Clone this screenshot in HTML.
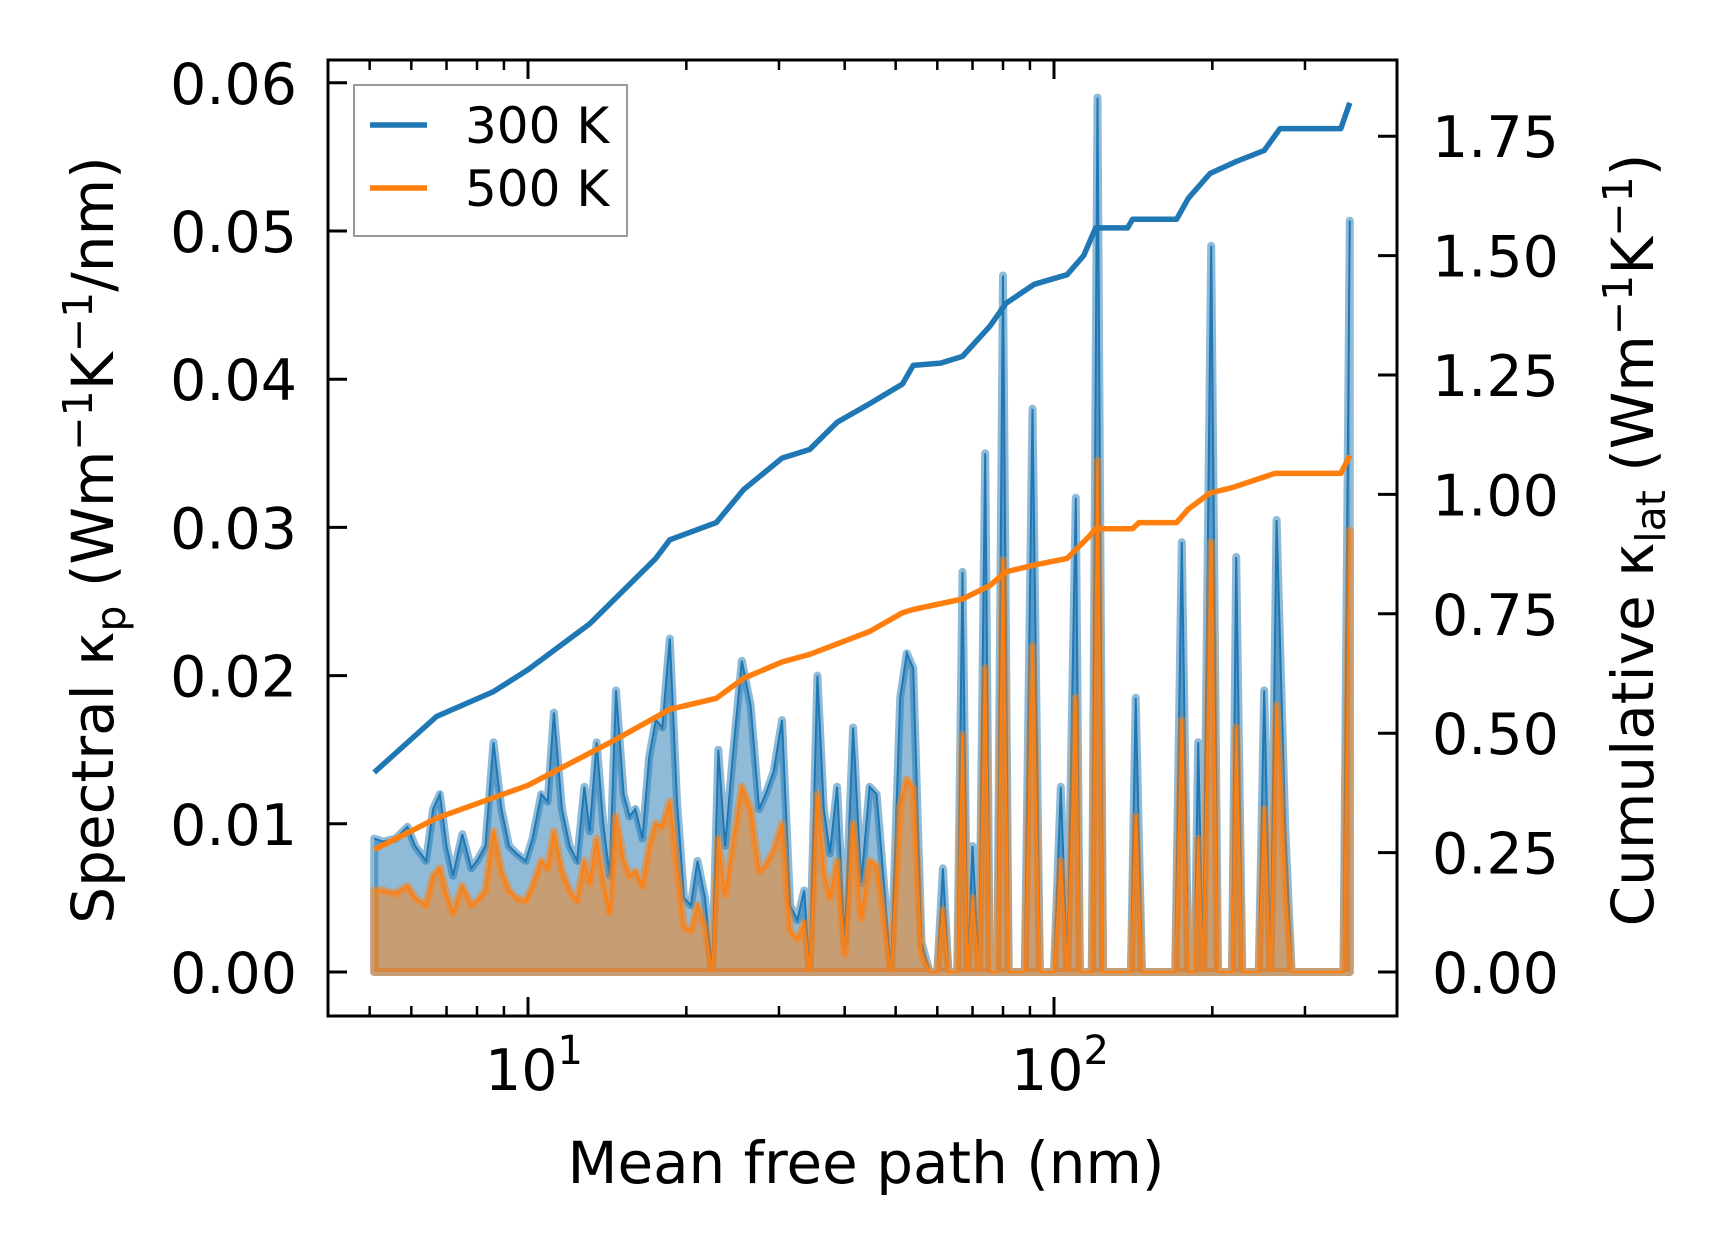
<!DOCTYPE html>
<html><head><meta charset="utf-8"><style>
html,body{margin:0;padding:0;background:#fff;}
svg{display:block;font-family:"DejaVu Sans","Liberation Sans",sans-serif;}
</style></head><body>
<svg id="chart" width="1716" height="1254" viewBox="0 0 1716 1254" xmlns="http://www.w3.org/2000/svg">
<rect width="1716" height="1254" fill="#fff"/>
<g id="plot"></g>
<g id="axes"></g>
<g>
<rect x="354" y="85" width="273" height="151" fill="#fff" fill-opacity="0.8" stroke="#999" stroke-width="2"/>
<line x1="370" y1="125" x2="427" y2="125" stroke="#1f77b4" stroke-width="5.5"/>
<text x="465" y="143" font-size="50">300 K</text>
<line x1="370" y1="188" x2="427" y2="188" stroke="#ff7f0e" stroke-width="5.5"/>
<text x="465" y="206" font-size="50">500 K</text>
</g>
<text x="866" y="1183" font-size="58" text-anchor="middle" textLength="597" lengthAdjust="spacingAndGlyphs">Mean free path (nm)</text>
<text transform="translate(113,540) rotate(-90)" font-size="58" text-anchor="middle">Spectral κ<tspan font-size="41" dy="12">p</tspan><tspan dy="-12"> (Wm</tspan><tspan font-size="41" dy="-21">−1</tspan><tspan dy="21">K</tspan><tspan font-size="41" dy="-21">−1</tspan><tspan dy="21">/nm)</tspan></text>
<text transform="translate(1653,540) rotate(-90)" font-size="58" text-anchor="middle">Cumulative κ<tspan font-size="41" dy="12">lat</tspan><tspan dy="-12"> (Wm</tspan><tspan font-size="41" dy="-21">−1</tspan><tspan dy="21">K</tspan><tspan font-size="41" dy="-21">−1</tspan><tspan dy="21">)</tspan></text>
</svg>
<script>
// ---- data ----
const mfp = [5.1,5.3,5.6,5.9,6.1,6.4,6.6,6.8,7.0,7.2,7.5,7.8,8.0,8.3,8.6,8.9,9.2,9.5,9.9,10.2,10.6,10.9,11.2,11.6,12.0,12.4,12.8,13.1,13.5,13.9,14.3,14.7,15.2,15.6,16.0,16.5,17.0,17.5,18.0,18.6,19.2,19.8,20.4,21.0,21.7,22.4,23.0,23.7,24.5,25.5,26.5,27.5,28.3,29.3,30.4,31.5,32.5,33.5,34.3,35.5,36.5,37.5,38.7,40,41.5,43,44.6,46,47.5,49,51,52.5,54,56,58,60,61.5,63,65.5,67,68.5,70,72,74,75.5,78,80,82,88,91,94,100,103,106,110,112,118,121,124,140,143,147,170,175,180,185,188,192,199,205,218,222,228,245,251,258,265,275,283,355,365];
const spec300 = [0.009,0.0088,0.009,0.0098,0.0085,0.0075,0.011,0.012,0.0085,0.0065,0.0093,0.007,0.0075,0.0085,0.0155,0.011,0.0085,0.008,0.0075,0.009,0.012,0.0115,0.0175,0.011,0.0085,0.0075,0.0125,0.0095,0.0155,0.01,0.0065,0.019,0.012,0.0105,0.011,0.009,0.0145,0.017,0.0165,0.0225,0.0115,0.005,0.0045,0.0075,0.005,0.0,0.015,0.0085,0.0145,0.021,0.018,0.011,0.012,0.0135,0.017,0.0045,0.0035,0.0055,0.0,0.02,0.011,0.008,0.0125,0.002,0.0165,0.006,0.0125,0.012,0.006,0.0,0.0185,0.0215,0.0205,0.002,0.0,0.0,0.007,0.0,0.0,0.027,0.0,0.0085,0.0,0.035,0.0,0.0,0.047,0.0,0.0,0.038,0.0,0.0,0.0125,0.0,0.032,0.0,0.0,0.059,0.0,0.0,0.0185,0.0,0.0,0.029,0.0,0.0,0.0155,0.0,0.049,0.0,0.0,0.028,0.0,0.0,0.019,0.0,0.0305,0.01,0.0,0.0,0.0507];
const spec500 = [0.0055,0.0055,0.0053,0.0058,0.005,0.0045,0.0065,0.007,0.0052,0.004,0.0058,0.0045,0.0048,0.0055,0.0095,0.0068,0.0055,0.005,0.0048,0.0058,0.0075,0.007,0.0095,0.0068,0.0055,0.0048,0.0075,0.006,0.009,0.0062,0.004,0.0105,0.0075,0.0065,0.0068,0.0058,0.0085,0.01,0.0098,0.0115,0.007,0.003,0.0028,0.0045,0.003,0.0,0.009,0.0052,0.0085,0.0125,0.011,0.0068,0.0072,0.0082,0.01,0.0028,0.0022,0.0033,0.0,0.012,0.0068,0.005,0.0075,0.0012,0.01,0.0036,0.0075,0.0072,0.0036,0.0,0.0112,0.013,0.0124,0.0012,0.0,0.0,0.0042,0.0,0.0,0.016,0.0,0.005,0.0,0.0205,0.0,0.0,0.0278,0.0,0.0,0.022,0.0,0.0,0.0075,0.0,0.0185,0.0,0.0,0.0345,0.0,0.0,0.0105,0.0,0.0,0.017,0.0,0.0,0.009,0.0,0.029,0.0,0.0,0.0165,0.0,0.0,0.011,0.0,0.018,0.006,0.0,0.0,0.0298];
const cumX300 = [5.1,6.7,8.6,10,13.1,17.5,18.6,22.8,25.7,30.4,34.3,38.7,44.6,51.5,54,60.9,67,75.5,81,91.7,105.9,113.9,120,138,141,171,180,198,222,251,269,351,365];
const cum300 = [0.418,0.535,0.587,0.633,0.729,0.866,0.905,0.941,1.01,1.076,1.094,1.151,1.19,1.231,1.27,1.275,1.289,1.352,1.40,1.44,1.46,1.50,1.558,1.558,1.576,1.576,1.62,1.672,1.697,1.72,1.766,1.766,1.82];
const cumX500 = [5.1,6.7,10,14.7,18.6,22.8,25.7,30.4,34.3,44.6,51.5,54,67,75.5,81,91.7,105.9,116.6,120,141,145,171,180,198,218,263,351,365];
const cum500 = [0.256,0.322,0.391,0.487,0.55,0.573,0.615,0.649,0.665,0.713,0.752,0.759,0.781,0.809,0.838,0.852,0.866,0.912,0.928,0.928,0.941,0.941,0.969,1.003,1.014,1.044,1.044,1.081];
const leftTicks = [0,0.01,0.02,0.03,0.04,0.05,0.06];
const leftTickLabels = ["0.00","0.01","0.02","0.03","0.04","0.05","0.06"];
const rightTicks = [0,0.25,0.5,0.75,1.0,1.25,1.5,1.75];
const rightTickLabels = ["0.00","0.25","0.50","0.75","1.00","1.25","1.50","1.75"];
const xMajor = [10,100];
const xMajorExp = ["1","2"];
const xMinor = [5,6,7,8,9,20,30,40,50,60,70,80,90,200,300];

// ---- scales ----
const L=328,R=1397,T=60,B=1016;
const xs = v => 528 + 526*(Math.log10(v)-1);
const yl = v => 972 - v*14820;
const yr = v => 972 - v*477.6;
const NS="http://www.w3.org/2000/svg";
function mk(tag, parent, attrs){const e=document.createElementNS(NS,tag);for(const k in attrs)e.setAttribute(k,attrs[k]);parent.appendChild(e);return e;}
const plot=document.getElementById('plot'), axes=document.getElementById('axes');

function spectral(ys, color, name){
  let pts = mfp.map((x,i)=>xs(x).toFixed(1)+','+yl(ys[i]).toFixed(1));
  const poly = pts.concat([xs(mfp[mfp.length-1]).toFixed(1)+','+yl(0), xs(mfp[0]).toFixed(1)+','+yl(0)]).join(' ');
  const f=mk('polygon',plot,{points:poly,fill:color,'fill-opacity':0.5,stroke:color,'stroke-opacity':0.5,'stroke-width':8,'stroke-linejoin':'round'});
  
  
  const l=mk('polyline',plot,{points:pts.join(' '),fill:'none',stroke:color,'stroke-width':2});
  
  
}
spectral(spec300,'#1f77b4','spectral-300k');
spectral(spec500,'#ff7f0e','spectral-500k');

function cum(xa, ya, color, name){
  const pts = xa.map((x,i)=>xs(x).toFixed(1)+','+yr(ya[i]).toFixed(1)).join(' ');
  const l=mk('polyline',plot,{points:pts,fill:'none',stroke:color,'stroke-width':5.5,'stroke-linejoin':'round'});
  
  
}
cum(cumX300,cum300,'#1f77b4','cumulative-300k');
cum(cumX500,cum500,'#ff7f0e','cumulative-500k');

// frame
const fr=mk('rect',axes,{x:L,y:T,width:R-L,height:B-T,fill:'none',stroke:'#000','stroke-width':3});


leftTicks.forEach((v,i)=>{
  const y=yl(v);
  mk('line',axes,{x1:L,y1:y,x2:L+19,y2:y,stroke:'#000','stroke-width':3});
  const t=mk('text',axes,{x:297,y:y+21,'font-size':57,'text-anchor':'end'});
  t.textContent=leftTickLabels[i];
  
  
});
rightTicks.forEach((v,i)=>{
  const y=yr(v);
  mk('line',axes,{x1:R-19,y1:y,x2:R,y2:y,stroke:'#000','stroke-width':3});
  const t=mk('text',axes,{x:1432,y:y+21,'font-size':57});
  t.textContent=rightTickLabels[i];
  
  
});
xMajor.forEach((v,i)=>{
  const x=xs(v);
  mk('line',axes,{x1:x,y1:B,x2:x,y2:B-19,stroke:'#000','stroke-width':3});
  mk('line',axes,{x1:x,y1:T,x2:x,y2:T+19,stroke:'#000','stroke-width':3});
  const t=mk('text',axes,{x:x-43,y:1090,'font-size':57});
  t.textContent='10';
  const s=mk('tspan',t,{'font-size':40,dy:-26});
  s.textContent=xMajorExp[i];
  
  
});
xMinor.forEach(v=>{
  const x=xs(v);
  mk('line',axes,{x1:x,y1:B,x2:x,y2:B-10,stroke:'#000','stroke-width':2.5});
  mk('line',axes,{x1:x,y1:T,x2:x,y2:T+10,stroke:'#000','stroke-width':2.5});
});
</script>
</body></html>
